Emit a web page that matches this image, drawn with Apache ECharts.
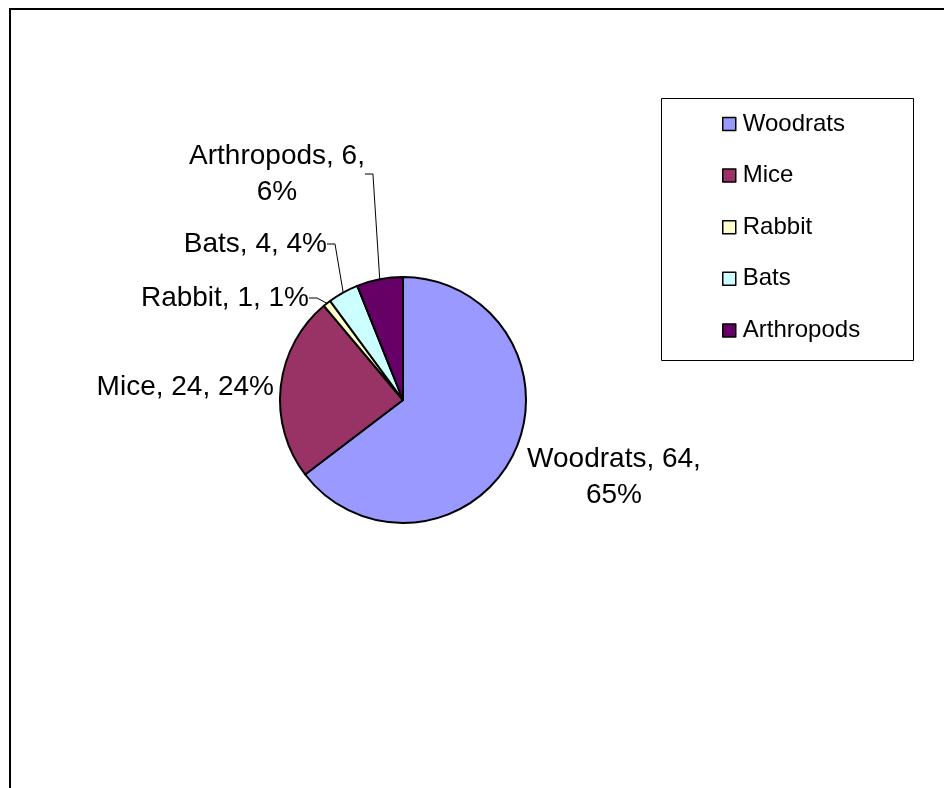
<!DOCTYPE html>
<html>
<head>
<meta charset="utf-8">
<script src="https://cdn.jsdelivr.net/npm/echarts@6/dist/echarts.min.js"></script>
<style>
html,body{margin:0;padding:0;background:#fff;}
#chart{width:944px;height:788px;}
</style>
</head>
<body>
<div id="chart"></div>
<script>
// ---- data ----
const categories = ['Woodrats', 'Mice', 'Rabbit', 'Bats', 'Arthropods'];
const values = [64, 24, 1, 4, 6];
const colors = ['#9999FF', '#993366', '#FFFFCC', '#CCFFFF', '#660066'];
const wrappedLabels = ['Woodrats', 'Arthropods'];
const noLeaderLine = ['Woodrats', 'Mice'];

// ---- layout (label anchor positions) ----
const labelPos = {
  Woodrats:   { x: 614, y: 477, align: 'center' },
  Mice:       { x: 274, y: 387, align: 'right' },
  Rabbit:     { x: 309, y: 298, align: 'right' },
  Bats:       { x: 327, y: 244, align: 'right' },
  Arthropods: { x: 277, y: 174, align: 'center' }
};

const FONT = '"Liberation Sans", Arial, sans-serif';
const chart = echarts.init(document.getElementById('chart'), null, { renderer: 'canvas' });

const seriesData = categories.map((c, i) => ({
  name: c,
  value: values[i],
  itemStyle: { color: colors[i] },
  labelLine: { show: noLeaderLine.indexOf(c) < 0 }
}));

chart.setOption({
  animation: false,
  backgroundColor: '#fff',
  graphic: [
    { type: 'rect', shape: { x: 10, y: 9, width: 1000, height: 1000 },
      style: { fill: 'none', stroke: '#000', lineWidth: 2 }, z: 0 },
    { type: 'rect', shape: { x: 661.5, y: 98.5, width: 252, height: 262 },
      style: { fill: '#fff', stroke: '#000', lineWidth: 1 }, z: 0 }
  ],
  legend: {
    orient: 'vertical',
    left: 722,
    top: 111,
    padding: 0,
    itemWidth: 13,
    itemHeight: 13,
    itemGap: 25.6,
    icon: 'rect',
    data: categories,
    textStyle: { fontFamily: FONT, fontSize: 24, color: '#000', lineHeight: 26, padding: [0, 0, 0, 2] },
    itemStyle: { borderColor: '#000', borderWidth: 1.5 }
  },
  series: [{
    type: 'pie',
    center: [403, 400],
    radius: 123,
    startAngle: 90,
    clockwise: true,
    percentPrecision: 0,
    avoidLabelOverlap: false,
    itemStyle: { borderColor: '#000', borderWidth: 2 },
    emphasis: { disabled: true },
    label: {
      show: true,
      position: 'outside',
      fontFamily: FONT,
      fontSize: 28,
      lineHeight: 36,
      color: '#000',
      formatter: function (p) {
        const sep = wrappedLabels.indexOf(p.name) >= 0 ? ',\n' : ', ';
        return p.name + ', ' + p.value + sep + p.percent + '%';
      }
    },
    labelLine: { show: true, length: 10, length2: 8, lineStyle: { color: '#000', width: 1 } },
    labelLayout: function (params) {
      const name = categories[params.dataIndex];
      const lp = labelPos[name];
      return { x: lp.x, y: lp.y, align: lp.align, verticalAlign: 'middle' };
    },
    data: seriesData
  }]
});
</script>
</body>
</html>
